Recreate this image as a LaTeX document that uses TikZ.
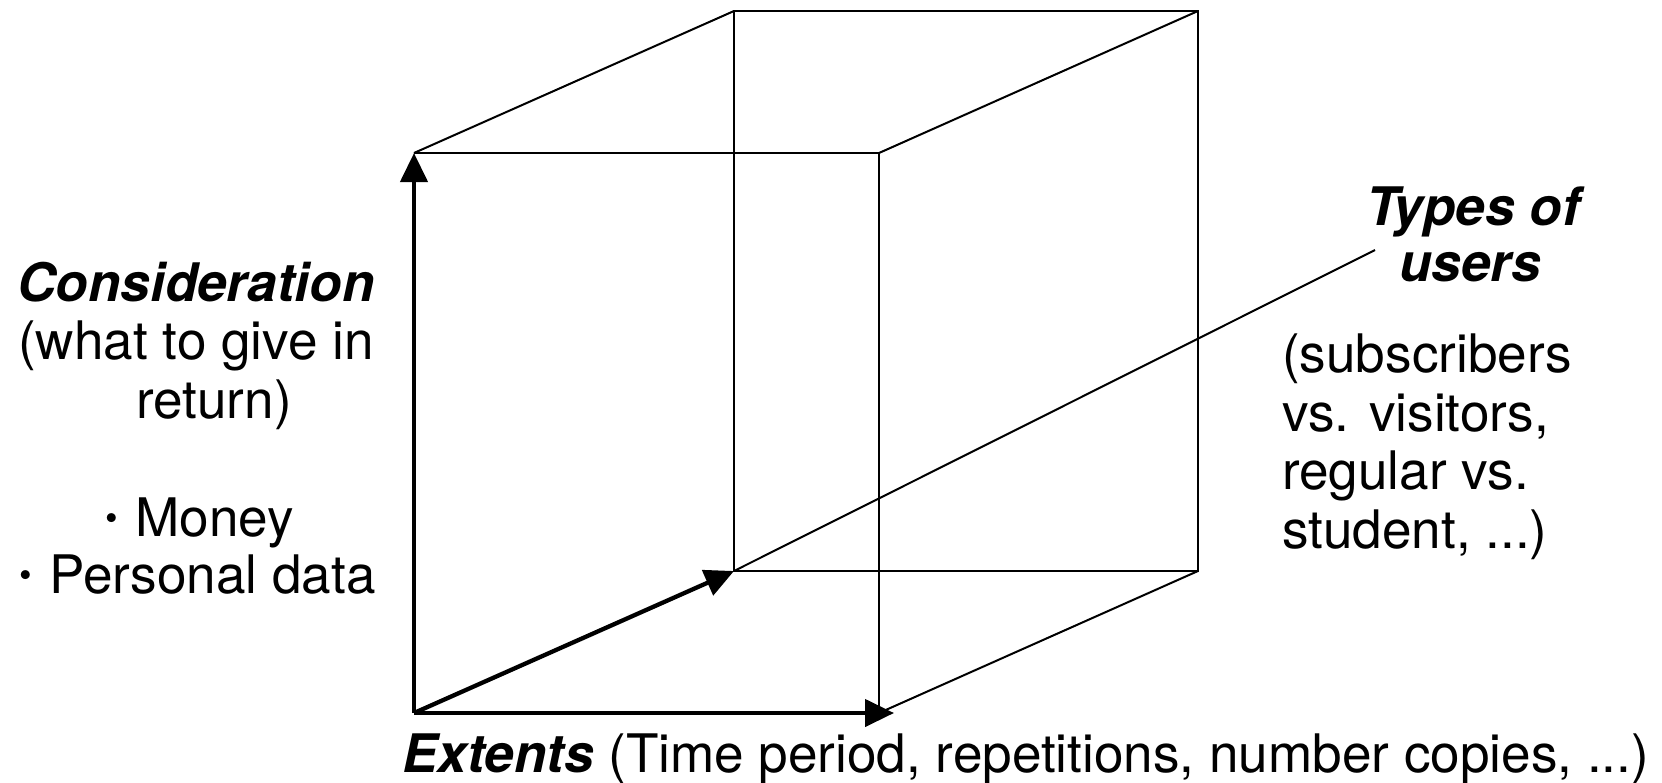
\documentclass[tikz,border=0pt]{standalone}
\usepackage{fontspec}
\setmainfont{TeX Gyre Heros}
\usetikzlibrary{arrows.meta}
\newcommand{\smallbul}{\makebox[0.35em][c]{\raisebox{6pt}{\fontsize{36}{36}\selectfont\textbullet}}}
\begin{document}
\begin{tikzpicture}[x=1pt,y=-1pt,
  edge/.style={line width=2pt},
  axis/.style={line width=4.3pt,-{Triangle[length=29pt,width=27pt]}},
  lbl/.style={inner sep=0pt,font=\fontsize{53.1}{58}\selectfont},
  head/.style={lbl,font=\fontsize{53.1}{58}\selectfont\bfseries\itshape},
]
\useasboundingbox (0,0) rectangle (1662,782);
\coordinate (O) at (414,713);
\coordinate (FTL) at (414,153);
\coordinate (FTR) at (879,153);
\coordinate (FBR) at (879,713);
\coordinate (BBL) at (734,571);
\coordinate (BTL) at (734,11);
\coordinate (BTR) at (1198,11);
\coordinate (BBR) at (1198,571);
\coordinate (XT) at (894,713);
\coordinate (UE) at (1375,250);
% cube edges
\draw[edge] (FTL) -- (FTR) -- (FBR);
\draw[edge] (BBL) -- (BTL) -- (BTR) -- (BBR) -- cycle;
\draw[edge] (FTL) -- (BTL);
\draw[edge] (FTR) -- (BTR);
\draw[edge] (FBR) -- (BBR);
\draw[edge] (BBL) -- (UE);
% axes
\draw[axis] (O) -- (FTL);
\draw[axis] (O) -- (BBL);
\draw[axis] (O) -- (XT);
% left labels
\node[head,anchor=base] (cons) at (196,301) {Consideration};
\node[lbl,anchor=base] (cons2) at (196,359) {(what to give in};
\node[lbl,anchor=base] (cons3) at (214,418) {return)};
\node[lbl,anchor=base] (money) at (198,536) {\smallbul{} Money};
\node[lbl,anchor=base] (pdata) at (196,593) {\smallbul{} Personal data};
% right labels
\node[head,anchor=base] (types) at (1473,225) {Types of};
\node[head,anchor=base] (users) at (1470,281) {users};
\node[lbl,anchor=base west] (u1) at (1282,372) {(subscribers};
\node[lbl,anchor=base west] (u2) at (1282,431) {vs. visitors,};
\node[lbl,anchor=base west] (u3) at (1282,489) {regular vs.};
\node[lbl,anchor=base west] (u4) at (1282,548) {student, ...)};
% bottom label
\node[lbl,anchor=base west] (ext) at (402,772) {\textbf{\textit{Extents}} (Time period, repetitions, number copies, ...)};
\end{tikzpicture}
\end{document}
